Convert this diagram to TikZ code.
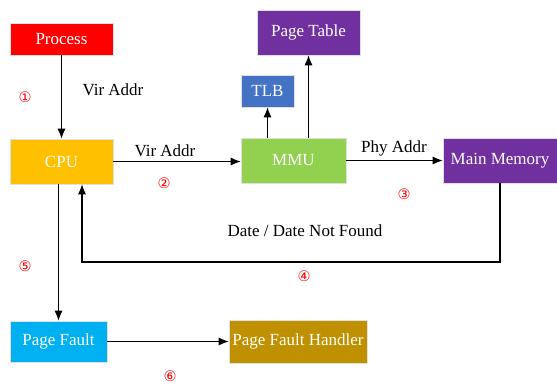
\documentclass[tikz,border=0pt]{standalone}
\usepackage{fontspec}
\setmainfont{Liberation Serif}
\newfontfamily\circfont{DejaVu Sans}
\usetikzlibrary{arrows.meta}

\definecolor{procred}{HTML}{FF0000}
\definecolor{cpuyellow}{HTML}{FFC000}
\definecolor{mmugreen}{HTML}{92D050}
\definecolor{tlbblue}{HTML}{4472C4}
\definecolor{tablepurple}{HTML}{7030A0}
\definecolor{faultcyan}{HTML}{00B0F0}
\definecolor{handlergold}{HTML}{BF9000}

\begin{document}
\begin{tikzpicture}[x=1pt, y=-1pt, font=\fontsize{17}{20}\selectfont,
    box/.style={rectangle, draw=black!12, line width=0.6pt, text=white, inner sep=0pt},
    step num/.style={text=red, font=\circfont\fontsize{14.5}{16}\selectfont},
    lbl/.style={text=black},
    n/.style={-{Latex[length=10pt, width=8pt]}, line width=1.1pt}]
    \useasboundingbox (0,0) rectangle (557,384);
    % nodes
    \node[box, fill=procred, minimum width=103pt, minimum height=32pt]     (proc) at (61.5,39)    {Process};
    \node[box, fill=cpuyellow, minimum width=103pt, minimum height=45pt]   (cpu)  at (61.5,161.5) {CPU};
    \node[box, fill=mmugreen, minimum width=105pt, minimum height=45pt]    (mmu)  at (293.5,160.5) {MMU};
    \node[box, fill=tlbblue, minimum width=53pt, minimum height=32pt]      (tlb)  at (267.5,91)   {TLB};
    \node[box, fill=tablepurple, minimum width=103pt, minimum height=45pt] (pt)   at (308.5,32.5) {Page Table};
    \node[box, fill=tablepurple, minimum width=114pt, minimum height=45pt] (mem)  at (500,160.5)  {Main Memory};
    \node[box, fill=faultcyan, minimum width=97pt, minimum height=41pt]    (pf)   at (58.5,341.5) {Page Fault};
    \node[box, fill=handlergold, minimum width=138pt, minimum height=43pt] (pfh)  at (298,341.5)  {Page Fault Handler};
    \coordinate (ret) at (82,262);
    % edges
    \draw[n] (proc) -- (cpu);
    \draw[n] (cpu.east) -- (cpu.east -| mmu.west);
    \draw[n] (tlb.south |- mmu.north) -- (tlb.south);
    \draw[n] (pt.south |- mmu.north) -- (pt.south);
    \draw[n] (mmu.east) -- (mmu.east -| mem.west);
    \draw[n] (mem.south) |- (ret) -- (ret |- cpu.south);
    \draw[n] (pf.north |- cpu.south) -- (pf.north);
    \draw[n] (pf) -- (pfh);
    % labels
    \node[lbl] (l1) at (113,90)  {Vir Addr};
    \node[lbl] (l2) at (165,151) {Vir Addr};
    \node[lbl] (l3) at (394,148) {Phy Addr};
    \node[lbl] (l4) at (305,231) {Date / Date Not Found};
    \node[step num] (s1) at (25,97)   {①};
    \node[step num] (s2) at (164,183) {②};
    \node[step num] (s3) at (404,194) {③};
    \node[step num] (s4) at (304,276) {④};
    \node[step num] (s5) at (25,266)  {⑤};
    \node[step num] (s6) at (170,376) {⑥};
\end{tikzpicture}
\end{document}
